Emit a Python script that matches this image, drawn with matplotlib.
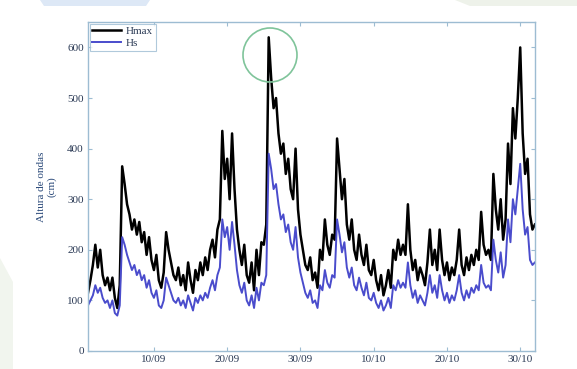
import numpy as np
import pandas as pd
import matplotlib
matplotlib.use("Agg")
import matplotlib.pyplot as plt
import matplotlib.dates as mdates
from matplotlib.patches import Polygon, Circle

# 3 readings per day (00h, 08h, 16h), 01/09 .. 31/10, plus 01/11 00h
hmax = [
    115, 140, 170,  210, 165, 200,  150, 130, 145,  120, 145, 105,  85, 130, 365,
    330, 290, 270,  240, 260, 230,  255, 215, 235,  190, 225, 180,  160, 190, 140,
    125, 155, 235,  200, 175, 150,  140, 165, 130,  150, 120, 175,  140, 115, 160,
    140, 175, 150,  185, 160, 200,  220, 185, 240,  260, 435, 340,  380, 300, 430,
    320, 240, 200,  170, 210, 150,  135, 175, 120,  200, 150, 215,  210, 250, 620,
    540, 480, 500,  430, 390, 410,  350, 380, 320,  300, 400, 280,  230, 200, 170,
    160, 185, 140,  155, 125, 200,  180, 260, 210,  190, 230, 220,  420, 360, 300,
    340, 250, 220,  260, 200, 180,  230, 190, 170,  210, 160, 150,  180, 140, 120,
    150, 110, 130,  160, 125, 200,  180, 220, 190,  210, 190, 290,  200, 160, 180,
    140, 165, 150,  130, 175, 240,  170, 200, 160,  240, 180, 150,  175, 140, 165,
    150, 180, 240,  170, 150, 185,  160, 190, 170,  200, 180, 275,  210, 190, 200,
    180, 350, 280,  240, 300, 220,  260, 410, 330,  480, 420, 500,  600, 430, 350,
    380, 270, 240,  250,
]
hs = [
    90, 100, 110,  130, 115, 125,  105, 95, 100,  85, 100, 75,  70, 90, 225,
    210, 190, 175,  160, 170, 150,  160, 140, 150,  125, 140, 115,  105, 120, 90,
    85, 100, 145,  130, 115, 100,  95, 105, 90,  100, 85, 110,  95, 80, 105,
    95, 110, 100,  115, 105, 125,  140, 120, 150,  165, 260, 225,  245, 200, 255,
    210, 160, 130,  115, 135, 100,  90, 110, 85,  125, 100, 135,  130, 150, 390,
    360, 320, 330,  290, 260, 270,  235, 250, 215,  200, 245, 185,  155, 135, 115,
    105, 120, 95,  100, 85, 130,  120, 160, 135,  125, 150, 145,  260, 230, 195,
    215, 165, 145,  165, 130, 120,  145, 125, 110,  135, 105, 100,  115, 95, 85,
    100, 80, 90,  105, 85, 130,  120, 140, 125,  135, 125, 175,  130, 105, 120,
    95, 110, 100,  90, 115, 150,  115, 130, 105,  150, 120, 100,  115, 95, 110,
    100, 120, 150,  115, 100, 120,  105, 125, 115,  130, 120, 170,  135, 125, 130,
    120, 220, 180,  155, 195, 145,  170, 260, 215,  300, 270, 320,  370, 280, 230,
    245, 180, 170,  175,
]
t = pd.date_range("2009-09-01", periods=len(hmax), freq="8h")
xticks = pd.to_datetime(["2009-09-10", "2009-09-20", "2009-09-30",
                         "2009-10-10", "2009-10-20", "2009-10-30"])
yticks = [0, 100, 200, 300, 400, 500, 600]

W, H = 577, 369
plt.rcParams["font.family"] = ["Liberation Serif", "DejaVu Serif"]
fig = plt.figure(figsize=(W / 100, H / 100), dpi=100)


def px(points):
    # pixel coords (top-left origin) -> figure fraction
    return [[x / W, 1 - y / H] for x, y in points]


# faint scan background shapes
fig.patches.append(Polygon(px([(40, 0), (150, 0), (146, 6), (44, 6)]), closed=True,
                           transform=fig.transFigure, facecolor="#dde8f6", edgecolor="none"))
fig.patches.append(Polygon(px([(455, 0), (577, 0), (577, 6), (470, 6)]), closed=True,
                           transform=fig.transFigure, facecolor="#eef2ea", edgecolor="none"))
fig.patches.append(Polygon(px([(0, 258), (13, 282), (13, 369), (0, 369)]), closed=True,
                           transform=fig.transFigure, facecolor="#f1f5ee", edgecolor="none"))

ax = fig.add_axes([0.1525, 0.0488, 0.7745, 0.8912])
ax.plot(t, hmax, color="black", lw=1.8, label="Hmax")
ax.plot(t, hs, color="#4a4ccc", lw=1.4, label="Hs")

ax.set_xlim(pd.Timestamp("2009-09-01"), pd.Timestamp("2009-11-01"))
ax.set_ylim(0, 650)
ax.set_xticks(xticks)
ax.xaxis.set_major_formatter(mdates.DateFormatter("%d/%m"))
ax.set_yticks(yticks)
ax.tick_params(direction="in", top=True, right=True, length=3, color="#9dbcd2",
               labelsize=8, labelcolor="#2b3a55", pad=3)
for s in ax.spines.values():
    s.set_color("#9dbcd2")
    s.set_linewidth(1.0)

ax.set_ylabel("Altura de ondas\n(cm)", fontsize=8, color="#2b4a7a", labelpad=8,
              linespacing=1.0)

leg = ax.legend(loc="upper left", fontsize=8, frameon=True, fancybox=False,
                borderaxespad=0.15, handlelength=2.6, borderpad=0.25,
                labelspacing=0.15, handletextpad=0.4)
leg.get_frame().set_edgecolor("#9dbcd2")
leg.get_frame().set_linewidth(0.8)
for txt in leg.get_texts():
    txt.set_color("#2b3a55")

cx, cy = px([(270, 55)])[0]
circ = Circle((cx * W, cy * H), 27, transform=None, fill=False,
              edgecolor="#7fc49a", lw=1.2)
fig.patches.append(circ)

fig.savefig("out.png", dpi=100)
